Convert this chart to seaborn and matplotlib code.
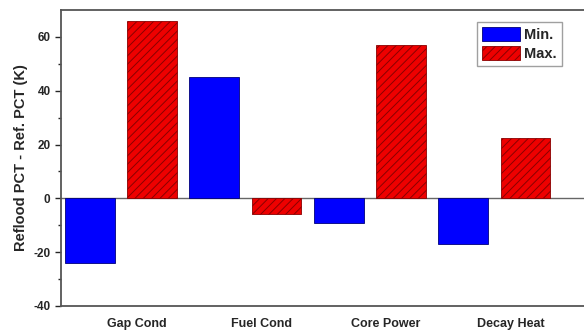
import pandas as pd
import numpy as np
import matplotlib
matplotlib.use("Agg")
import matplotlib.pyplot as plt
import matplotlib.transforms as mtransforms
import seaborn as sns

cases = ["Gap Cond", "Fuel Cond", "Core Power", "Decay Heat"]
min_vals = [-24, 45, -9, -17]
max_vals = [66, -6, 57, 22.5]

df = pd.DataFrame({
    "case": cases * 2,
    "kind": ["Min."] * 4 + ["Max."] * 4,
    "dPCT": min_vals + max_vals,
})

sns.set_style("ticks")
plt.rcParams["font.family"] = ["Liberation Sans", "DejaVu Sans"]
plt.rcParams["font.weight"] = "bold"
plt.rcParams["hatch.linewidth"] = 0.7
plt.rcParams["axes.unicode_minus"] = False

fig = plt.figure(figsize=(5.84, 3.34), dpi=100)
ax = fig.add_axes([0.1045, 0.084, 0.8955, 0.886])

sns.barplot(data=df, x="case", y="dPCT", hue="kind",
            palette={"Min.": "#0000ff", "Max.": "#ee0000"},
            width=1.0, gap=0.2, ax=ax, saturation=1)

# hatch the Max. bars like the original
for p in ax.patches:
    fc = p.get_facecolor()
    if fc[0] > 0.5:
        p.set_hatch("////")
        p.set_edgecolor("#8a0000")
    else:
        p.set_edgecolor("#00007a")
    p.set_linewidth(0.6)

ax.axhline(0, color="#666666", lw=1.0, zorder=0)
ax.set_ylim(-40, 70)
ax.set_xlim(-0.48, 3.72)
ax.set_yticks([-40, -20, 0, 20, 40, 60])
ax.set_yticks(np.arange(-30, 70, 20), minor=True)
ax.tick_params(axis="y", direction="out", length=4, width=1, labelsize=8.5)
ax.tick_params(axis="y", which="minor", length=2.5, width=1)
ax.tick_params(axis="x", length=0, labelsize=9, pad=9)
for lbl in ax.get_yticklabels() + ax.get_xticklabels():
    lbl.set_fontweight("bold")
# category labels sit a bit right of the group centre in the original
shift = mtransforms.ScaledTranslation(16 / 100, 0, fig.dpi_scale_trans)
for lbl in ax.get_xticklabels():
    lbl.set_transform(lbl.get_transform() + shift)
ax.set_xlabel("")
ax.set_ylabel("Reflood PCT - Ref. PCT (K)", fontsize=10.5, fontweight="bold")
ax.spines["right"].set_visible(False)
for s in ["left", "top", "bottom"]:
    ax.spines[s].set_color("#555555")
    ax.spines[s].set_linewidth(1.3)

handles, labels = ax.get_legend_handles_labels()
handles[0].set_edgecolor("#00007a")
handles[1].set_hatch("////")
handles[1].set_edgecolor("#8a0000")
ax.legend(handles, labels, loc="upper left", bbox_to_anchor=(0.795, 0.96),
          borderaxespad=0, fancybox=False, edgecolor="#888888",
          handlelength=2.6, handleheight=1.1, handletextpad=0.3,
          borderpad=0.35, labelspacing=0.25, prop={"weight": "bold", "size": 10.5})

fig.savefig("out.png", dpi=100)
